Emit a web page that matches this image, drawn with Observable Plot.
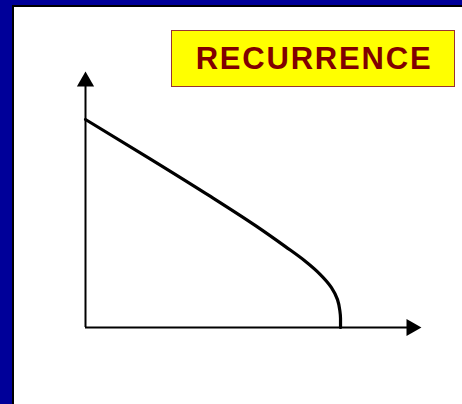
<!DOCTYPE html>
<html>
<head>
<meta charset="utf-8">
<script src="https://cdn.jsdelivr.net/npm/d3@7"></script>
<script src="https://cdn.jsdelivr.net/npm/@observablehq/plot@0.6"></script>
<style>
  html, body { margin: 0; padding: 0; width: 462px; height: 404px; overflow: hidden; background: #000099; }
  #panel { position: absolute; left: 12px; top: 5px; width: 470px; height: 420px; background: #fff;
           border-left: 2px solid #000; border-top: 2px solid #000; }
  #chart { position: absolute; left: 0; top: 0; }
  #title { position: absolute; left: 171px; top: 30px; width: 280px; height: 55px;
           background: #ffff00; border: 1px solid #993333;
           display: flex; align-items: center; justify-content: center;
           font-family: "Liberation Sans", Arial, sans-serif; font-weight: bold;
           font-size: 31px; letter-spacing: 1.8px; color: #800000; padding-left: 2px; box-sizing: content-box; }
</style>
</head>
<body>
<div id="panel"></div>
<div id="chart"></div>
<div id="title">RECURRENCE</div>
<script>
const titleText = "RECURRENCE";
// Curve (x: 0–100 along the horizontal axis, y: 0–100 up the vertical axis)
const curveX = [0, 19.35, 37.2, 50.6, 59.5, 65.5, 69.9, 73.2, 75.0, 75.7, 75.9, 75.9];
const curveY = [81.25, 65.8, 51.2, 39.8, 31.6, 25.8, 20.7, 15.6, 10.9, 6.6, 3.5, 0];
const axisMax = 100;

document.getElementById("title").textContent = titleText;
const curve = curveX.map((x, i) => ({x, y: curveY[i]}));

const chart = Plot.plot({
  width: 462, height: 404,
  marginLeft: 85, marginRight: 41, marginTop: 71, marginBottom: 77,
  x: {domain: [0, axisMax], axis: null},
  y: {domain: [0, axisMax], axis: null},
  style: {background: "transparent", overflow: "visible"},
  marks: [
    Plot.ruleX([0], {y1: 0, y2: axisMax - 4, stroke: "black", strokeWidth: 2}),
    Plot.ruleY([0], {x1: 0, x2: axisMax - 4, stroke: "black", strokeWidth: 2}),
    Plot.dot([{x: 0, y: axisMax}], {x: "x", y: "y", symbol: "triangle", r: 6.4, fill: "black", stroke: null, dy: 10}),
    Plot.dot([{x: axisMax, y: 0}], {x: "x", y: "y", symbol: "triangle", r: 6.4, fill: "black", stroke: null, rotate: 90, dx: -10}),
    Plot.line(curve, {x: "x", y: "y", curve: "monotone-y", stroke: "black", strokeWidth: 3.2})
  ]
});
document.getElementById("chart").appendChild(chart);
</script>
</body>
</html>
